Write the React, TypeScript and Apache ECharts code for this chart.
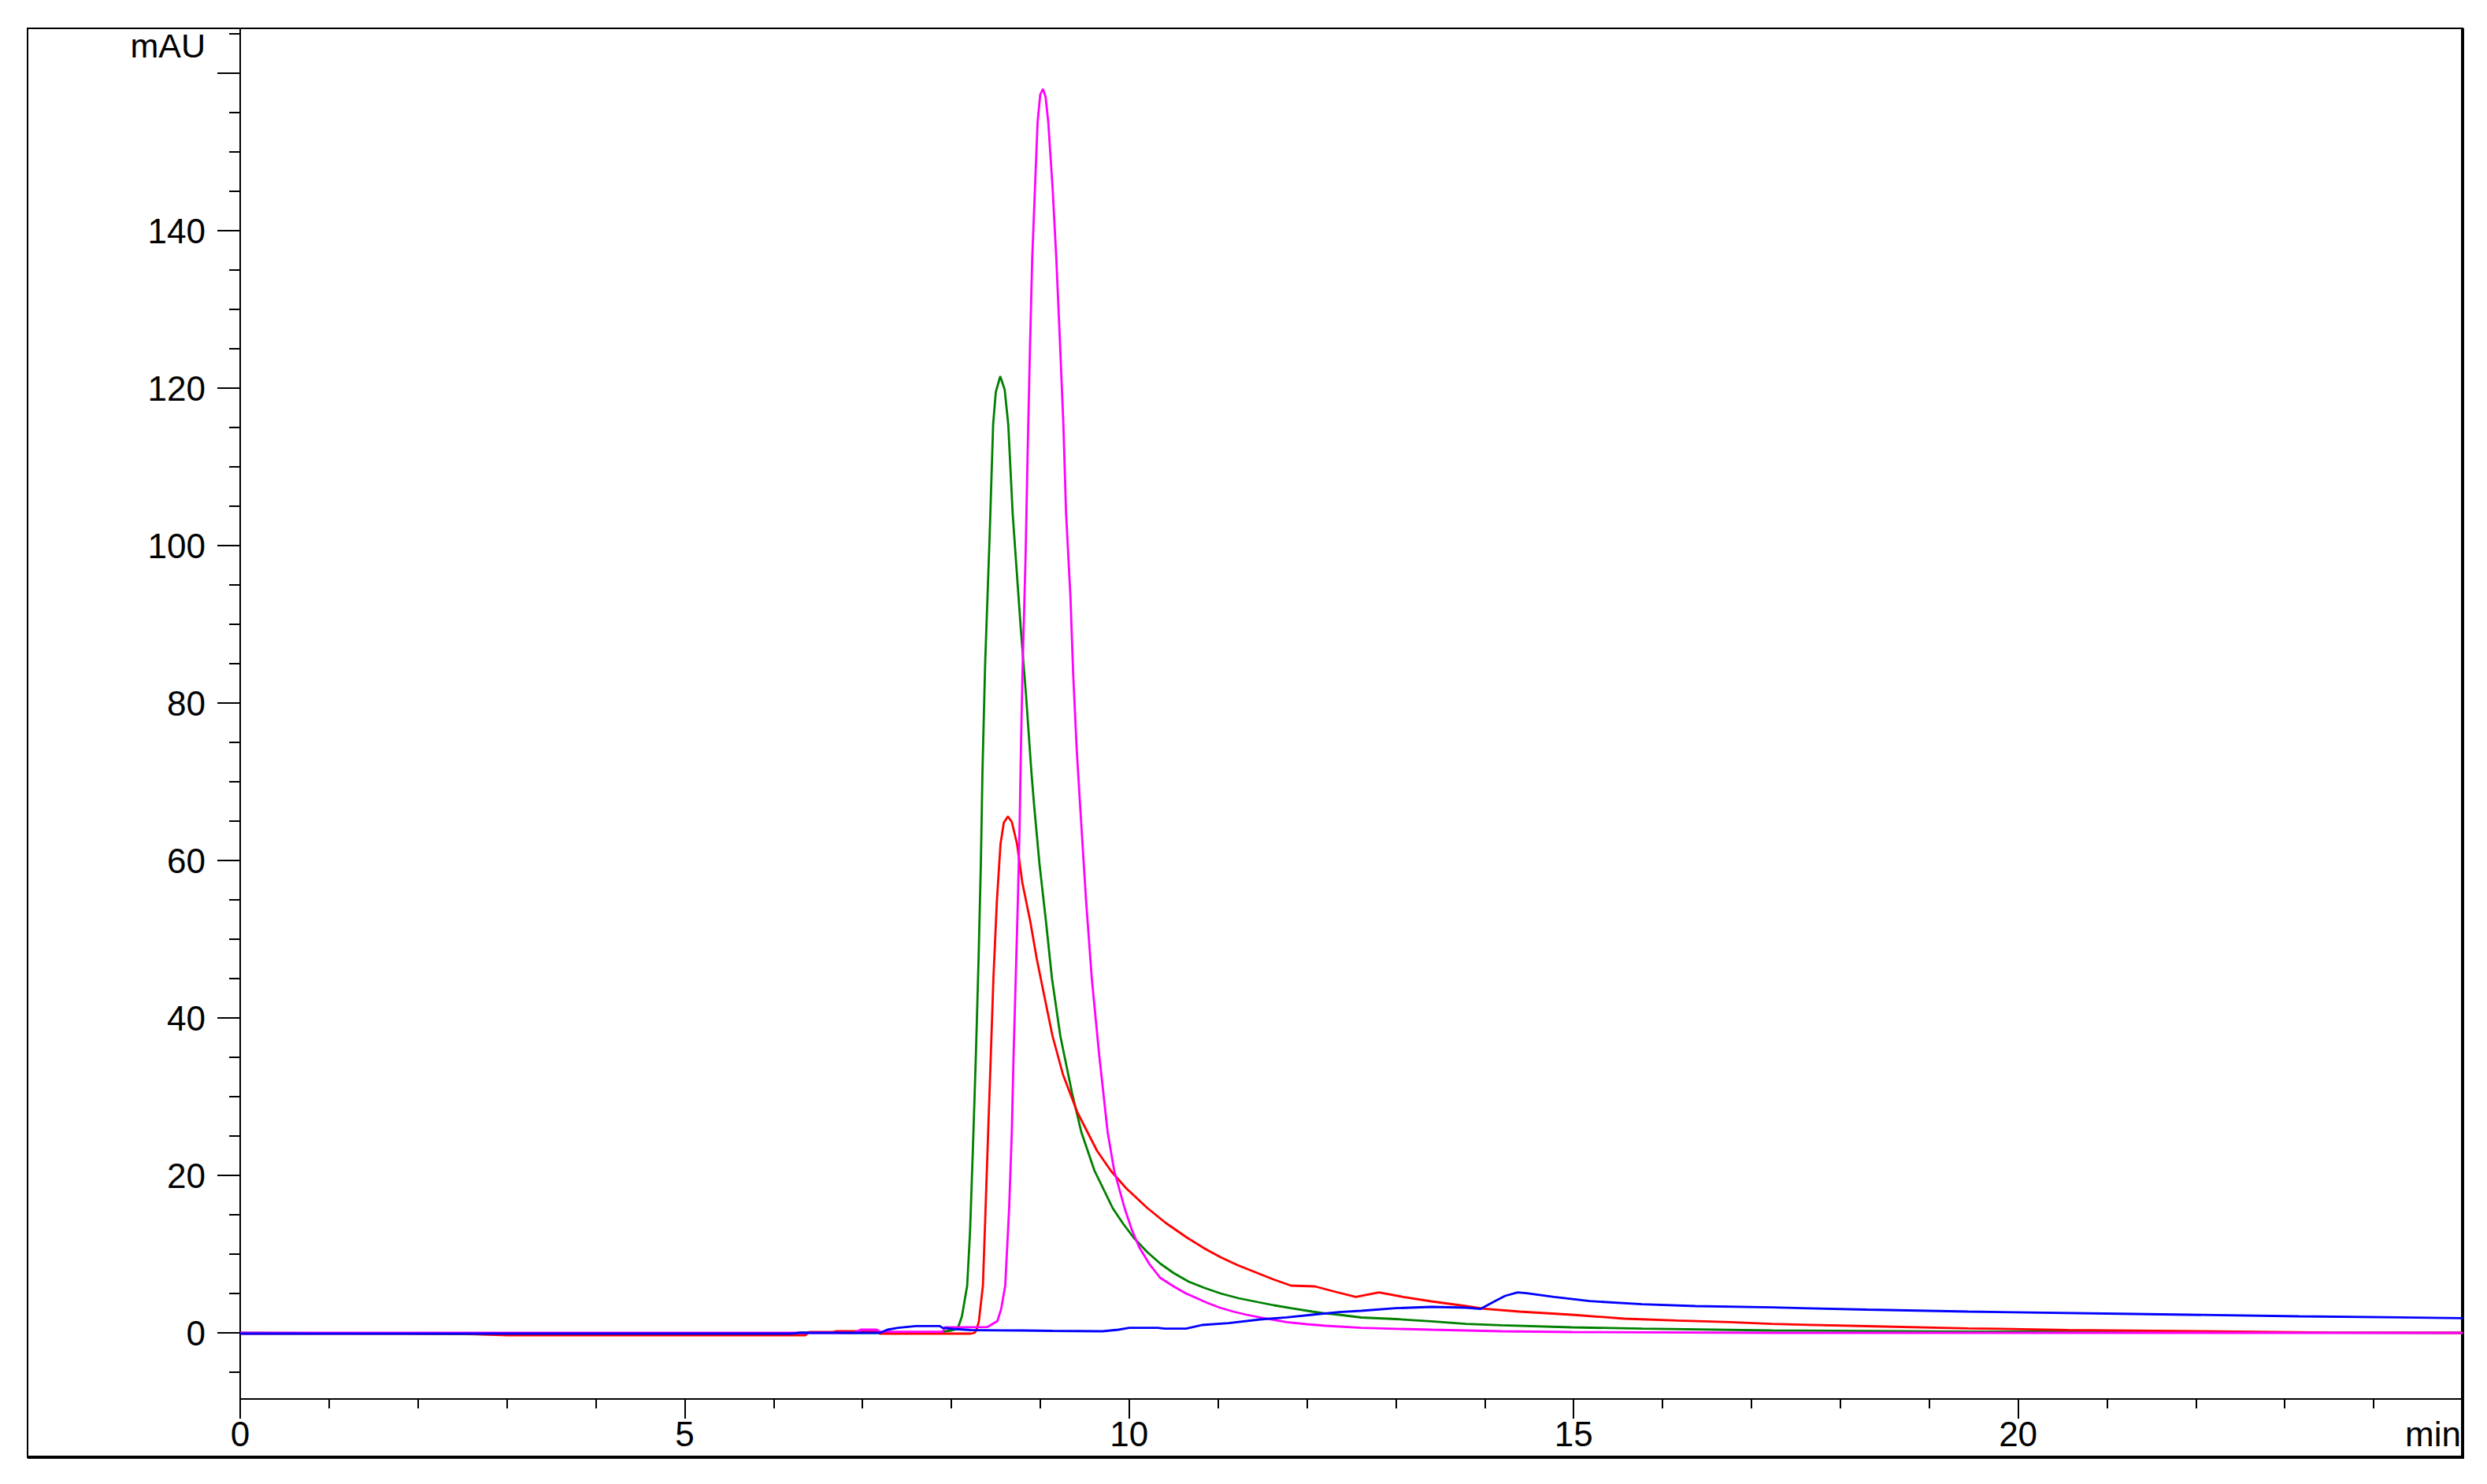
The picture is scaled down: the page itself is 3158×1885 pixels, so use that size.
import React, { useEffect, useRef } from "react";
import * as echarts from "echarts";

const W = 3158;
const H = 1885;

// Time axis (min) and absorbance axis (mAU)
const xTickLabels = [0, 5, 10, 15, 20];
const yMajorTicks = [0, 20, 40, 60, 80, 100, 120, 140, 160];
const yLabelValues = [0, 20, 40, 60, 80, 100, 120, 140];
const yMinorTicks = [-5, 5, 10, 15, 25, 30, 35, 45, 50, 55, 65, 70, 75, 85, 90, 95, 105, 110, 115, 125, 130, 135, 145, 150, 155, 165];

// Traces: [time (min), signal (mAU)]
const greenTrace: [number, number][] = [
  [0, 0], [2, -0.1], [3, -0.2], [6.2, -0.2], [6.3, 0.07], [6.65, 0.07], [6.8, 0], [7.9, 0],
  [7.93, 0.2], [8.0, 0.3], [8.07, 0.5], [8.119, 2.1], [8.178, 6.0], [8.21, 12.8], [8.243, 23.6],
  [8.276, 35.3], [8.305, 47.0], [8.332, 59.7], [8.35, 71.3], [8.38, 85.0], [8.43, 101.0],
  [8.47, 115.4], [8.5, 119.5], [8.55, 121.5], [8.6, 119.8], [8.64, 115.4], [8.69, 104.0],
  [8.78, 89.6], [8.84, 81.0], [8.9, 71.3], [8.931, 67.0], [8.99, 59.7], [9.064, 52.3],
  [9.132, 45.0], [9.226, 37.7], [9.359, 30.4], [9.462, 25.5], [9.61, 20.6], [9.817, 15.8],
  [9.93, 13.9], [10.05, 12.1], [10.2, 10.3], [10.35, 8.8], [10.5, 7.6], [10.67, 6.5],
  [10.85, 5.7], [11.03, 5.0], [11.23, 4.4], [11.45, 3.9], [11.63, 3.5], [11.82, 3.13],
  [12.06, 2.7], [12.21, 2.47], [12.36, 2.3], [12.61, 1.95], [13.0, 1.75], [13.4, 1.47],
  [13.79, 1.13], [14.19, 0.97], [14.98, 0.7], [15.77, 0.53], [17.23, 0.3], [19.44, 0.17],
  [21.3, 0.15], [23.2, 0.03], [25, 0],
];

const redTrace: [number, number][] = [
  [0, -0.1], [2.5, -0.1], [3, -0.3], [6.36, -0.3], [6.4, 0.1], [6.66, 0.1], [6.7, 0.2],
  [7.16, 0.2], [7.2, -0.1], [8.22, -0.1], [8.26, 0], [8.281, 0.3], [8.31, 1.5], [8.355, 6.0],
  [8.385, 15.8], [8.414, 25.5], [8.444, 35.3], [8.473, 45.0], [8.512, 54.8], [8.553, 62.1],
  [8.59, 64.8], [8.636, 65.6], [8.68, 64.9], [8.739, 62.1], [8.798, 57.2], [8.887, 52.3],
  [8.961, 47.5], [9.049, 42.6], [9.138, 37.7], [9.256, 32.8], [9.418, 28.0], [9.64, 23.1],
  [9.8, 20.5], [9.964, 18.4], [10.2, 15.9], [10.407, 14.0], [10.65, 12.1], [10.85, 10.7],
  [11.03, 9.6], [11.22, 8.6], [11.42, 7.7], [11.62, 6.8], [11.82, 6.0], [12.09, 5.9],
  [12.29, 5.3], [12.55, 4.57], [12.81, 5.13], [13.08, 4.57], [13.4, 4.0], [13.79, 3.4],
  [13.99, 3.07], [14.39, 2.7], [14.98, 2.3], [15.57, 1.8], [16.17, 1.57], [16.76, 1.37],
  [17.23, 1.13], [18.3, 0.85], [19.44, 0.57], [20.56, 0.37], [22.04, 0.2], [23.5, 0.03],
  [25, 0],
];

const magentaTrace: [number, number][] = [
  [0, 0], [6.9, 0], [6.98, 0.4], [7.16, 0.4], [7.2, 0.13], [7.9, 0.13], [7.93, 0.7],
  [8.4, 0.73], [8.43, 0.9], [8.518, 1.5], [8.56, 3.0], [8.606, 6.0], [8.65, 15.8], [8.68, 25.5],
  [8.7, 35.3], [8.724, 45.0], [8.748, 54.8], [8.768, 64.5], [8.783, 74.3], [8.8, 83.8],
  [8.835, 98.7], [8.86, 112.8], [8.885, 125.4], [8.91, 136.6], [8.94, 145.2], [8.97, 153.8],
  [9.0, 157.3], [9.03, 158.0], [9.06, 157.0], [9.09, 153.8], [9.14, 145.2], [9.18, 136.6],
  [9.22, 126.3], [9.26, 115.4], [9.29, 104.2], [9.34, 93.4], [9.37, 83.8], [9.41, 74.1],
  [9.462, 64.5], [9.516, 54.8], [9.58, 45.0], [9.663, 35.3], [9.758, 25.5], [9.832, 20.6],
  [9.95, 15.8], [10.03, 13.1], [10.112, 10.9], [10.23, 8.7], [10.348, 7.0], [10.5, 5.9],
  [10.64, 5.0], [10.88, 3.8], [11.02, 3.2], [11.17, 2.7], [11.32, 2.3], [11.47, 1.97],
  [11.77, 1.37], [12.0, 1.1], [12.21, 0.9], [12.61, 0.63], [13.4, 0.4], [14.19, 0.2],
  [14.98, 0.1], [17.23, 0.0], [25, 0],
];

const blueTrace: [number, number][] = [
  [0, -0.1], [6.2, -0.1], [6.3, 0], [7.2, 0], [7.28, 0.4], [7.4, 0.63], [7.6, 0.87],
  [7.87, 0.87], [7.9, 0.63], [8.02, 0.5], [8.22, 0.35], [8.8, 0.3], [9.14, 0.25], [9.7, 0.2],
  [9.88, 0.4], [10.0, 0.63], [10.32, 0.63], [10.4, 0.53], [10.64, 0.53], [10.82, 1.0],
  [11.12, 1.23], [11.47, 1.7], [11.77, 1.97], [12.06, 2.3], [12.36, 2.63], [12.61, 2.8],
  [13.0, 3.13], [13.4, 3.3], [13.79, 3.2], [13.95, 3.03], [14.11, 4.0], [14.23, 4.7],
  [14.37, 5.13], [14.47, 5.03], [14.78, 4.57], [15.18, 4.03], [15.77, 3.63], [16.37, 3.4],
  [17.23, 3.23], [18.3, 2.95], [19.44, 2.7], [21.3, 2.4], [23.16, 2.1], [25, 1.87],
];

const FONT = "'Liberation Sans', Arial, sans-serif";

export default function App() {
  const ref = useRef<HTMLDivElement>(null);

  useEffect(() => {
    if (!ref.current) return;
    const chart = echarts.init(ref.current, undefined, { renderer: "svg", width: W, height: H });

    const gridLeft = 305;
    const gridTop = 36;
    const gridRight = 31;
    const gridBottom = 108;
    const axisRight = W - gridRight;
    const axisBottom = H - gridBottom;

    const mkLine = (name: string, color: string, data: [number, number][], z: number) => ({
      name,
      type: "line",
      data,
      showSymbol: false,
      symbol: "none",
      smooth: false,
      lineStyle: { color, width: 2.8 },
      z,
      clip: true,
    });

    chart.setOption({
      animation: false,
      backgroundColor: "#ffffff",
      grid: { left: gridLeft, top: gridTop, right: gridRight, bottom: gridBottom, containLabel: false },
      xAxis: {
        type: "value",
        min: 0,
        max: 25,
        interval: 5,
        axisLine: { show: true, onZero: false, lineStyle: { color: "#000", width: 2 } },
        axisTick: { show: true, length: 25, inside: false, lineStyle: { color: "#000", width: 2 } },
        minorTick: { show: true, splitNumber: 5, length: 12, lineStyle: { color: "#000", width: 2 } },
        splitLine: { show: false },
        minorSplitLine: { show: false },
        axisLabel: {
          margin: 22,
          fontSize: 44,
          fontFamily: FONT,
          color: "#000",
          formatter: (v: number) => (xTickLabels.indexOf(v) >= 0 ? String(v) : ""),
        },
      },
      yAxis: [
        {
          type: "value",
          min: -8.4,
          max: 165.7,
          position: "left",
          axisLine: { show: true, onZero: false, lineStyle: { color: "#000", width: 2 } },
          axisTick: { show: true, length: 29, customValues: yMajorTicks, lineStyle: { color: "#000", width: 2 } },
          splitLine: { show: false },
          axisLabel: {
            margin: 44,
            fontSize: 44,
            fontFamily: FONT,
            color: "#000",
            customValues: yLabelValues,
          },
        },
        {
          type: "value",
          min: -8.4,
          max: 165.7,
          position: "left",
          axisLine: { show: false },
          axisTick: { show: true, length: 14, customValues: yMinorTicks, lineStyle: { color: "#000", width: 2 } },
          splitLine: { show: false },
          axisLabel: { show: false },
        },
      ],
      series: [
        mkLine("green", "#008000", greenTrace, 2),
        mkLine("red", "#ff0000", redTrace, 3),
        mkLine("magenta", "#ff00ff", magentaTrace, 4),
        mkLine("blue", "#0000ff", blueTrace, 5),
      ],
      graphic: [
        {
          type: "rect",
          shape: { x: 35, y: 36, width: axisRight - 35, height: 1851 - 36 },
          style: { fill: "none", stroke: "#000", lineWidth: 2 },
          silent: true,
          z: 0,
        },
        {
          type: "line",
          shape: { x1: axisRight, y1: 36, x2: axisRight, y2: 1852 },
          style: { stroke: "#000", lineWidth: 4 },
          silent: true,
        },
        {
          type: "line",
          shape: { x1: 35, y1: 1851, x2: axisRight + 2, y2: 1851 },
          style: { stroke: "#000", lineWidth: 4 },
          silent: true,
        },
        {
          type: "text",
          x: 261,
          y: 58,
          style: {
            text: "mAU",
            fontSize: 43,
            fontFamily: FONT,
            fill: "#000",
            align: "right",
            verticalAlign: "middle",
          },
        },
        {
          type: "text",
          x: 3125,
          y: axisBottom + 22 + 22,
          style: {
            text: "min",
            fontSize: 44,
            fontFamily: FONT,
            fill: "#000",
            align: "right",
            verticalAlign: "middle",
          },
        },
      ],
    });

    return () => {
      chart.dispose();
    };
  }, []);

  return (
    <div
      ref={ref}
      style={{ position: "fixed", left: 0, top: 0, width: W, height: H, background: "#fff" }}
    />
  );
}
